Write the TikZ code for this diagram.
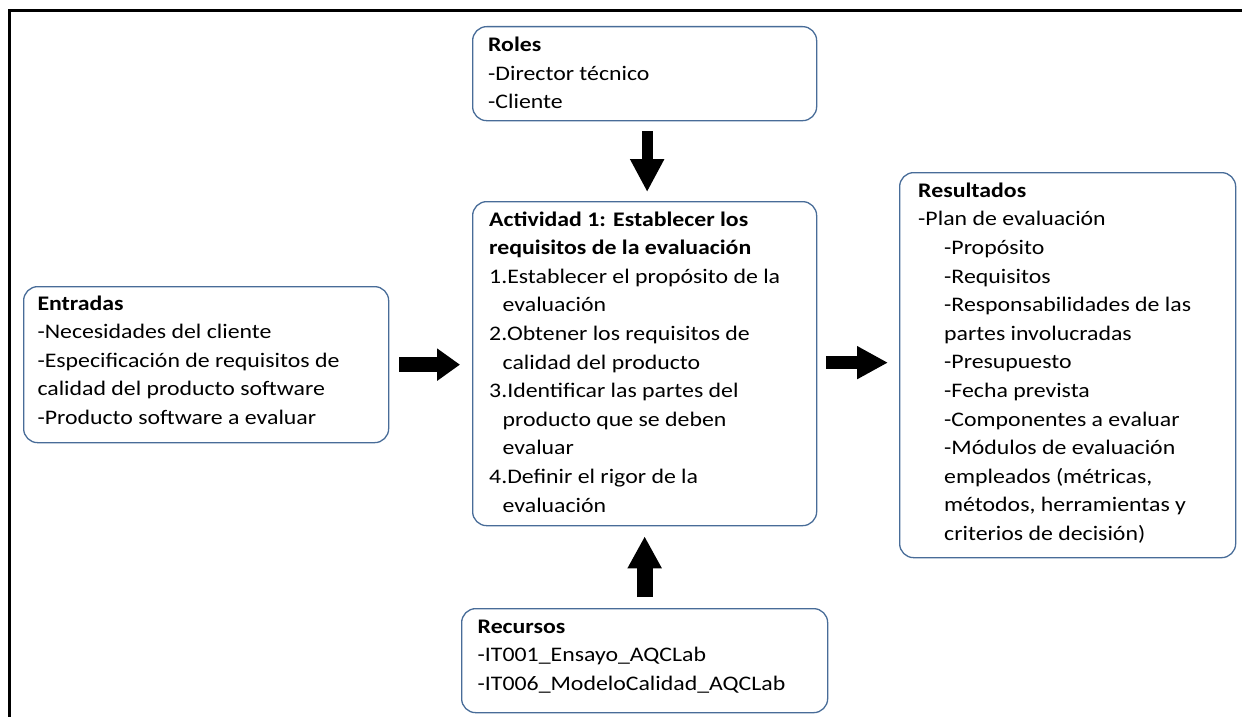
\documentclass[tikz,border=0pt]{standalone}
\usepackage{fontspec}
\setmainfont{Carlito}[FakeStretch=1.15]
\usetikzlibrary{arrows.meta,calc}
\definecolor{boxblue}{RGB}{72,108,152}
\tikzset{
  box/.style={draw=boxblue, line width=1.3pt, rounded corners=14pt, rectangle, inner sep=0pt, anchor=north west},
  txt/.style={anchor=base west, align=left, inner sep=0pt, font=\fontsize{20.7}{28.6}\selectfont},
}
\begin{document}
\begin{tikzpicture}[x=1pt,y=-1pt]
\useasboundingbox (0,0) rectangle (1242,717);
% partial frame
\coordinate (fbl) at (9.8,717);
\coordinate (ftl) at (9.8,10.8);
\coordinate (ftr) at (1242,10.8);
\draw[line width=3pt] (fbl) -- (ftl) -- (ftr);

% boxes
\node[box, minimum width=344pt, minimum height=94pt] (roles) at (472,26) {};
\node[box, minimum width=344pt, minimum height=324pt] (act) at (472,201) {};
\node[box, minimum width=336pt, minimum height=385pt] (res) at (899,172) {};
\node[box, minimum width=365pt, minimum height=156pt] (ent) at (23,286) {};
\node[box, minimum width=366pt, minimum height=104pt] (rec) at (461,608) {};

% texts (anchor = baseline of last line)
\node[txt] (rolestxt) at ($(roles.north west)+(16,25.7+2*28.6)$)
  {\textbf{Roles}\\-Director técnico\\-Cliente};
\node[txt] (acttxt) at ($(act.north west)+(17,25+10*28.6)$)
  {\textbf{Actividad 1: Establecer los}\\
   \textbf{requisitos de la evaluación}\\
   1.Establecer el propósito de la\\
   \hspace*{13.5pt}evaluación\\
   2.Obtener los requisitos de\\
   \hspace*{13.5pt}calidad del producto\\
   3.Identificar las partes del\\
   \hspace*{13.5pt}producto que se deben\\
   \hspace*{13.5pt}evaluar\\
   4.Definir el rigor de la\\
   \hspace*{13.5pt}evaluación};
\node[txt] (restxt) at ($(res.north west)+(19,25.3+12*28.6)$)
  {\textbf{Resultados}\\
   -Plan de evaluación\\
   \hspace*{26pt}-Propósito\\
   \hspace*{26pt}-Requisitos\\
   \hspace*{26pt}-Responsabilidades de las\\
   \hspace*{26pt}partes involucradas\\
   \hspace*{26pt}-Presupuesto\\
   \hspace*{26pt}-Fecha prevista\\
   \hspace*{26pt}-Componentes a evaluar\\
   \hspace*{26pt}-Módulos de evaluación\\
   \hspace*{26pt}empleados (métricas,\\
   \hspace*{26pt}métodos, herramientas y\\
   \hspace*{26pt}criterios de decisión)};
\node[txt] (enttxt) at ($(ent.north west)+(14.3,24+4*28.6)$)
  {\textbf{Entradas}\\
   -Necesidades del cliente\\
   -Especificación de requisitos de\\
   calidad del producto software\\
   -Producto software a evaluar};
\node[txt] (rectxt) at ($(rec.north west)+(16.5,25+2*28.6)$)
  {\textbf{Recursos}\\
   -IT001\_Ensayo\_AQCLab\\
   -IT006\_ModeloCalidad\_AQCLab};

% block arrows
\draw[line width=11pt, -{Triangle[width=32pt,length=33pt]}, shorten <=10pt, shorten >=9pt]
  ($(roles.south)+(2.5,0)$) -- ($(act.north)+(2.5,0)$);
\draw[line width=16pt, -{Triangle[width=32pt,length=32pt]}, shorten <=11pt, shorten >=10pt]
  (rec.north) -- (act.south);
\draw[line width=15pt, -{Triangle[width=31pt,length=23pt]}, shorten <=10pt, shorten >=12pt]
  (ent.east) -- (ent.east -| act.west);
\draw[line width=13pt, -{Triangle[width=31pt,length=31pt]}, shorten <=9pt, shorten >=11pt]
  ($(act.east)+(0,-1)$) -- ($(act.east -| res.west)+(0,-1)$);
\end{tikzpicture}
\end{document}
